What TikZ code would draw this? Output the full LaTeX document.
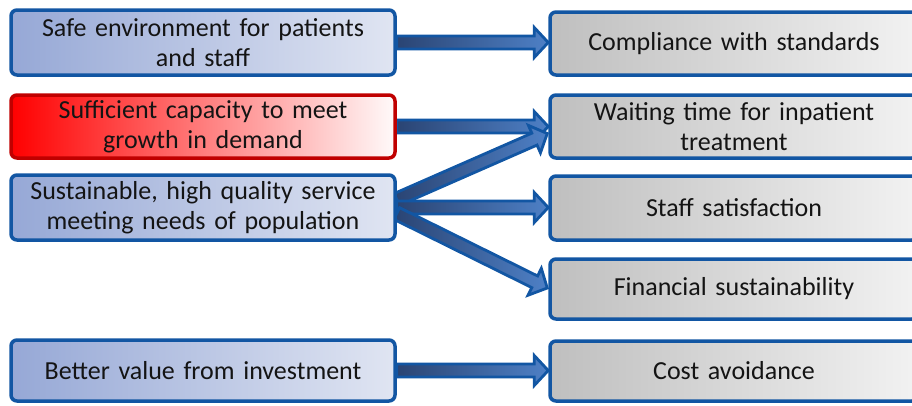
\documentclass[tikz,border=0pt]{standalone}
\usepackage{fontspec}
\setmainfont{Carlito}
\usetikzlibrary{calc,backgrounds}
\definecolor{bordblue}{RGB}{18,86,163}
\definecolor{lbA}{RGB}{150,168,214}
\definecolor{lbB}{RGB}{224,229,242}
\definecolor{redA}{RGB}{255,0,0}
\definecolor{redB}{RGB}{255,250,250}
\definecolor{redbord}{RGB}{192,0,0}
\definecolor{gA}{RGB}{191,191,191}
\definecolor{gM}{RGB}{200,200,200}
\definecolor{gB}{RGB}{242,242,242}
\definecolor{arA}{RGB}{42,68,115}
\definecolor{arB}{RGB}{78,128,198}
\definecolor{txt}{RGB}{20,20,20}
\tikzset{
  lbox/.style={draw=bordblue, line width=3.5pt, rounded corners=6pt,
    minimum width=384pt, minimum height=64pt, align=center, text width=376pt,
    inner sep=1pt, left color=lbA, right color=lbB, text=txt},
  redbox/.style={draw=redbord, left color=redA, right color=redB},
  rbox/.style={draw=bordblue, line width=3.5pt, rounded corners=6pt,
    minimum width=368pt, minimum height=63pt, align=center, text width=350pt,
    inner sep=1pt, left color=gA, middle color=gM, right color=gB, text=txt},
  arrowfill/.style={draw=bordblue, line width=2.8pt, line join=miter,
    left color=arA, right color=arB}
}
\newcommand\fatarrow[2]{%
  \coordinate (fab) at ($(#2)!14pt!(#1)$);
  \path[arrowfill] ($(#1)!6.5pt!90:(#2)$) -- ($(fab)!6.5pt!90:(#2)$)
    -- ($(fab)!15pt!90:(#2)$) -- (#2) -- ($(fab)!15pt!-90:(#2)$)
    -- ($(fab)!6.5pt!-90:(#2)$) -- ($(#1)!6.5pt!-90:(#2)$) -- cycle;
}
\begin{document}
\begin{tikzpicture}[x=1pt,y=-1pt, font=\fontsize{26}{30}\selectfont]
\useasboundingbox (0,0) rectangle (912,405);
\clip (0,0) rectangle (912,405);
% left boxes
\node[lbox, minimum height=65pt] (l1) at (203,42.5) {Safe environment for patients\\and staff};
\node[lbox, redbox, minimum height=63pt] (l2) at (203,126.5) {Sufficient capacity to meet\\growth in demand};
\node[lbox, minimum height=65pt] (l3) at (203,207.5) {Sustainable, high quality service\\meeting needs of population};
\node[lbox, minimum height=61pt] (l5) at (203,370.5) {Better value from investment};
% right boxes
\node[rbox] (r1) at (734,43.5) {Compliance with standards};
\node[rbox] (r2) at (734,126.5) {Waiting time for inpatient\\treatment};
\node[rbox, minimum height=64pt] (r3) at (734,208) {Staff satisfaction};
\node[rbox, minimum height=60pt] (r4) at (734,289) {Financial sustainability};
\node[rbox, minimum height=60pt] (r5) at (734,371) {Cost avoidance};
% connector end points
\coordinate (a1s) at (l1.east);
\coordinate (a1e) at (r1.west |- l1.east);
\coordinate (a2s) at (l2.east);
\coordinate (a2e) at (r2.west |- l2.east);
\coordinate (d1s) at ($(l3.east)+(0,-8)$);
\coordinate (d1e) at ($(r2.west)+(-1,7)$);
\coordinate (a3s) at (l3.east);
\coordinate (a3e) at (r3.west |- l3.east);
\coordinate (d2s) at ($(l3.east)+(0,6)$);
\coordinate (d2e) at ($(r4.west)+(-1,-1)$);
\coordinate (a5s) at (l5.east);
\coordinate (a5e) at (r5.west |- l5.east);
\begin{pgfonlayer}{background}
\fatarrow{a1s}{a1e}
\fatarrow{a2s}{a2e}
\fatarrow{d1s}{d1e}
\fatarrow{a3s}{a3e}
\fatarrow{d2s}{d2e}
\fatarrow{a5s}{a5e}
\end{pgfonlayer}
\end{tikzpicture}
\end{document}
